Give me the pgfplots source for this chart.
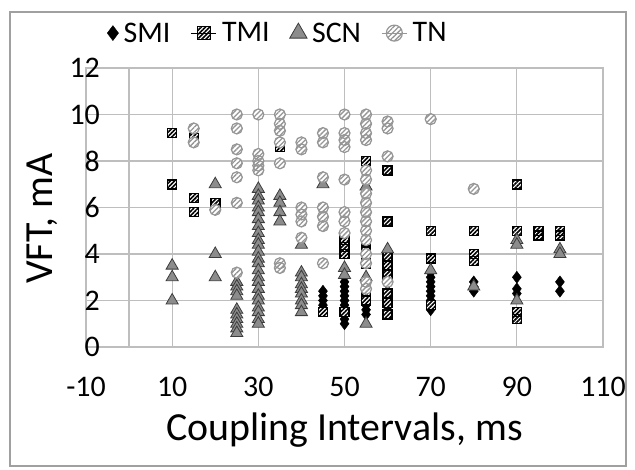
\documentclass[border=0pt]{standalone}
\usepackage{fontspec}
\setmainfont{Carlito}
\usepackage{pgfplots}
\usepackage{pgfplotstable}
\pgfplotsset{compat=1.18}
\usetikzlibrary{patterns.meta}

\definecolor{gridgray}{RGB}{190,190,190}
\definecolor{framegray}{RGB}{160,160,160}
\definecolor{scnfill}{RGB}{140,140,140}
\definecolor{scnedge}{RGB}{60,60,60}
\definecolor{tnedge}{RGB}{150,150,150}

\newcommand{\legfont}{\fontsize{30}{30}\selectfont}

\pgfplotsset{
  lineleg/.style 2 args={legend image code/.code={%
    \draw[#1,line width=1.2bp](0cm,0)--(0.9cm,0);
    \draw[##1, mark size=#2] plot coordinates {(0.45cm,0cm)};}},
  markleg/.style={legend image code/.code={%
    \draw[##1, mark size=#1] plot coordinates {(0.3cm,0cm)};}},
}

% coupling interval (ms), VFT (mA)
\pgfplotstableread{
x y
45 2.4
45 2.2
45 2.0
45 1.8
45 1.6
50 2.8
50 2.6
50 2.4
50 2.2
50 2.0
50 1.8
50 1.6
50 1.4
50 1.2
50 1.0
55 2.6
55 2.4
55 2.2
55 2.0
55 1.8
55 1.6
55 1.4
60 2.4
60 2.2
60 2.0
60 1.8
60 1.6
70 3.2
70 3.0
70 2.8
70 2.6
70 2.4
70 2.2
70 2.0
70 1.8
70 1.6
80 2.8
80 2.6
80 2.4
90 3.0
90 2.5
90 2.3
100 2.8
100 2.4
}\smi

\pgfplotstableread{
x y
10 9.2
10 7.0
15 9.0
15 6.4
15 5.8
20 6.2
35 8.6
45 1.5
50 4.6
50 4.3
50 4.0
50 1.5
55 8.0
55 4.5
55 4.2
55 3.6
55 2.4
55 2.0
60 7.6
60 5.4
60 3.9
60 3.5
60 3.1
60 2.3
60 1.9
60 1.4
70 5.0
70 3.8
70 1.8
80 5.0
80 4.0
80 3.7
90 7.0
90 5.0
90 1.5
90 1.2
95 5.0
95 4.8
100 5.0
100 4.8
}\tmi

\pgfplotstableread{
x y
10 3.5
10 3.0
10 2.0
20 7.0
20 4.0
20 3.0
25 2.8
25 2.6
25 2.4
25 2.2
25 1.6
25 1.4
25 1.2
25 1.0
25 0.8
25 0.6
30 6.8
30 6.5
30 6.3
30 6.0
30 5.8
30 5.5
30 5.2
30 4.9
30 4.6
30 4.4
30 4.1
30 3.8
30 3.6
30 3.3
30 3.0
30 2.8
30 2.5
30 2.2
30 2.0
30 1.7
30 1.5
30 1.2
30 1.0
35 6.5
35 6.2
35 5.8
35 5.4
40 4.4
40 3.2
40 3.0
40 2.7
40 2.5
40 2.3
40 2.0
40 1.8
40 1.5
45 7.0
50 3.4
50 3.1
55 6.9
55 3.0
55 1.0
60 4.2
70 3.3
80 2.6
90 4.6
90 4.4
90 2.0
100 4.2
100 4.0
}\scn

\pgfplotstableread{
x y
15 9.4
15 8.8
20 5.9
25 10.0
25 9.4
25 8.5
25 7.9
25 7.3
25 6.2
25 3.2
30 10.0
30 8.3
30 8.0
30 7.8
30 7.6
35 10.0
35 9.6
35 9.3
35 8.8
35 7.9
35 3.6
35 3.4
40 8.8
40 8.5
40 6.0
40 5.7
40 5.4
40 4.7
45 9.2
45 8.8
45 7.3
45 6.0
45 5.6
45 5.2
45 3.6
50 10.0
50 9.2
50 8.9
50 8.6
50 7.2
50 5.8
50 5.4
50 4.9
55 10.0
55 9.6
55 9.2
55 8.9
55 7.6
55 7.2
55 6.6
55 6.2
55 5.8
55 5.4
55 5.0
55 4.6
55 4.0
55 3.6
55 2.8
55 2.5
60 9.7
60 9.4
60 8.2
60 2.8
70 9.8
80 6.8
}\tn

\begin{document}
\begin{tikzpicture}[x=1bp,y=1bp]
\path[use as bounding box] (-86,-123) rectangle (549,347);
\draw[framegray, line width=2.5bp] (-76,-119) rectangle (540,335);
\begin{axis}[
  at={(0,0)}, anchor=south west,
  scale only axis, width=517bp, height=279bp,
  xmin=-10, xmax=110, ymin=0, ymax=12,
  xtick={-10,10,...,110}, ytick={0,2,...,12},
  extra x ticks={0}, extra x tick labels={},
  extra x tick style={grid=major},
  grid=major, major grid style={gridgray, line width=1.2bp},
  axis line style={gridgray, line width=1.2bp},
  tick style={draw=none},
  tick label style={font=\fontsize{30}{30}\selectfont},
  xticklabel style={anchor=north, inner sep=0pt, yshift=-30bp},
  yticklabel style={anchor=east, inner sep=0pt, xshift=14bp},
  /pgf/number format/assume math mode=true,
  xlabel={Coupling Intervals, ms}, ylabel={VFT, mA},
  label style={font=\fontsize{40}{40}\selectfont},
  xlabel style={at={(axis description cs:0.5,-0.297)}, anchor=center},
  ylabel style={at={(axis description cs:-0.085,0.46)}, anchor=center},
  legend columns=4,
  legend style={at={(0.035,1.125)}, anchor=west, draw=none, fill=none,
    font=\legfont, nodes={font=\legfont, inner sep=2bp},
    /tikz/every odd column/.append style={column sep=3bp},
    /tikz/every even column/.append style={column sep=18bp}},
  legend cell align=left,
]
\addplot[only marks, mark=diamond*, mark size=6bp,
  mark options={draw=black, fill=black}, markleg=7.5bp] table[x=x,y=y]{\smi};
\addlegendentry{SMI}
\addplot[only marks, mark=square*, mark size=4.5bp, forget plot,
  mark options={draw=black, fill=white}] table[x=x,y=y]{\tmi};
\addplot[only marks, mark=square*, mark size=4.5bp,
  mark options={draw=black, line width=1.3bp, pattern={Lines[angle=45,distance=3bp,line width=1.6bp]}, pattern color=black},
  lineleg={black}{6.5bp}] table[x=x,y=y]{\tmi};
\addlegendentry{TMI}
\addplot[only marks, mark=triangle*, mark size=7bp,
  mark options={draw=scnedge, fill=scnfill, line width=0.8bp}, markleg=10bp] table[x=x,y=y]{\scn};
\addlegendentry{SCN}
\addplot[only marks, mark=*, mark size=5.5bp, forget plot,
  mark options={draw=tnedge, fill=white}] table[x=x,y=y]{\tn};
\addplot[only marks, mark=*, mark size=5.5bp,
  mark options={draw=tnedge, line width=1.2bp, pattern={Lines[angle=45,distance=3.5bp,line width=1.3bp]}, pattern color=tnedge},
  lineleg={tnedge}{8bp}] table[x=x,y=y]{\tn};
\addlegendentry{TN}
\end{axis}
\end{tikzpicture}
\end{document}
